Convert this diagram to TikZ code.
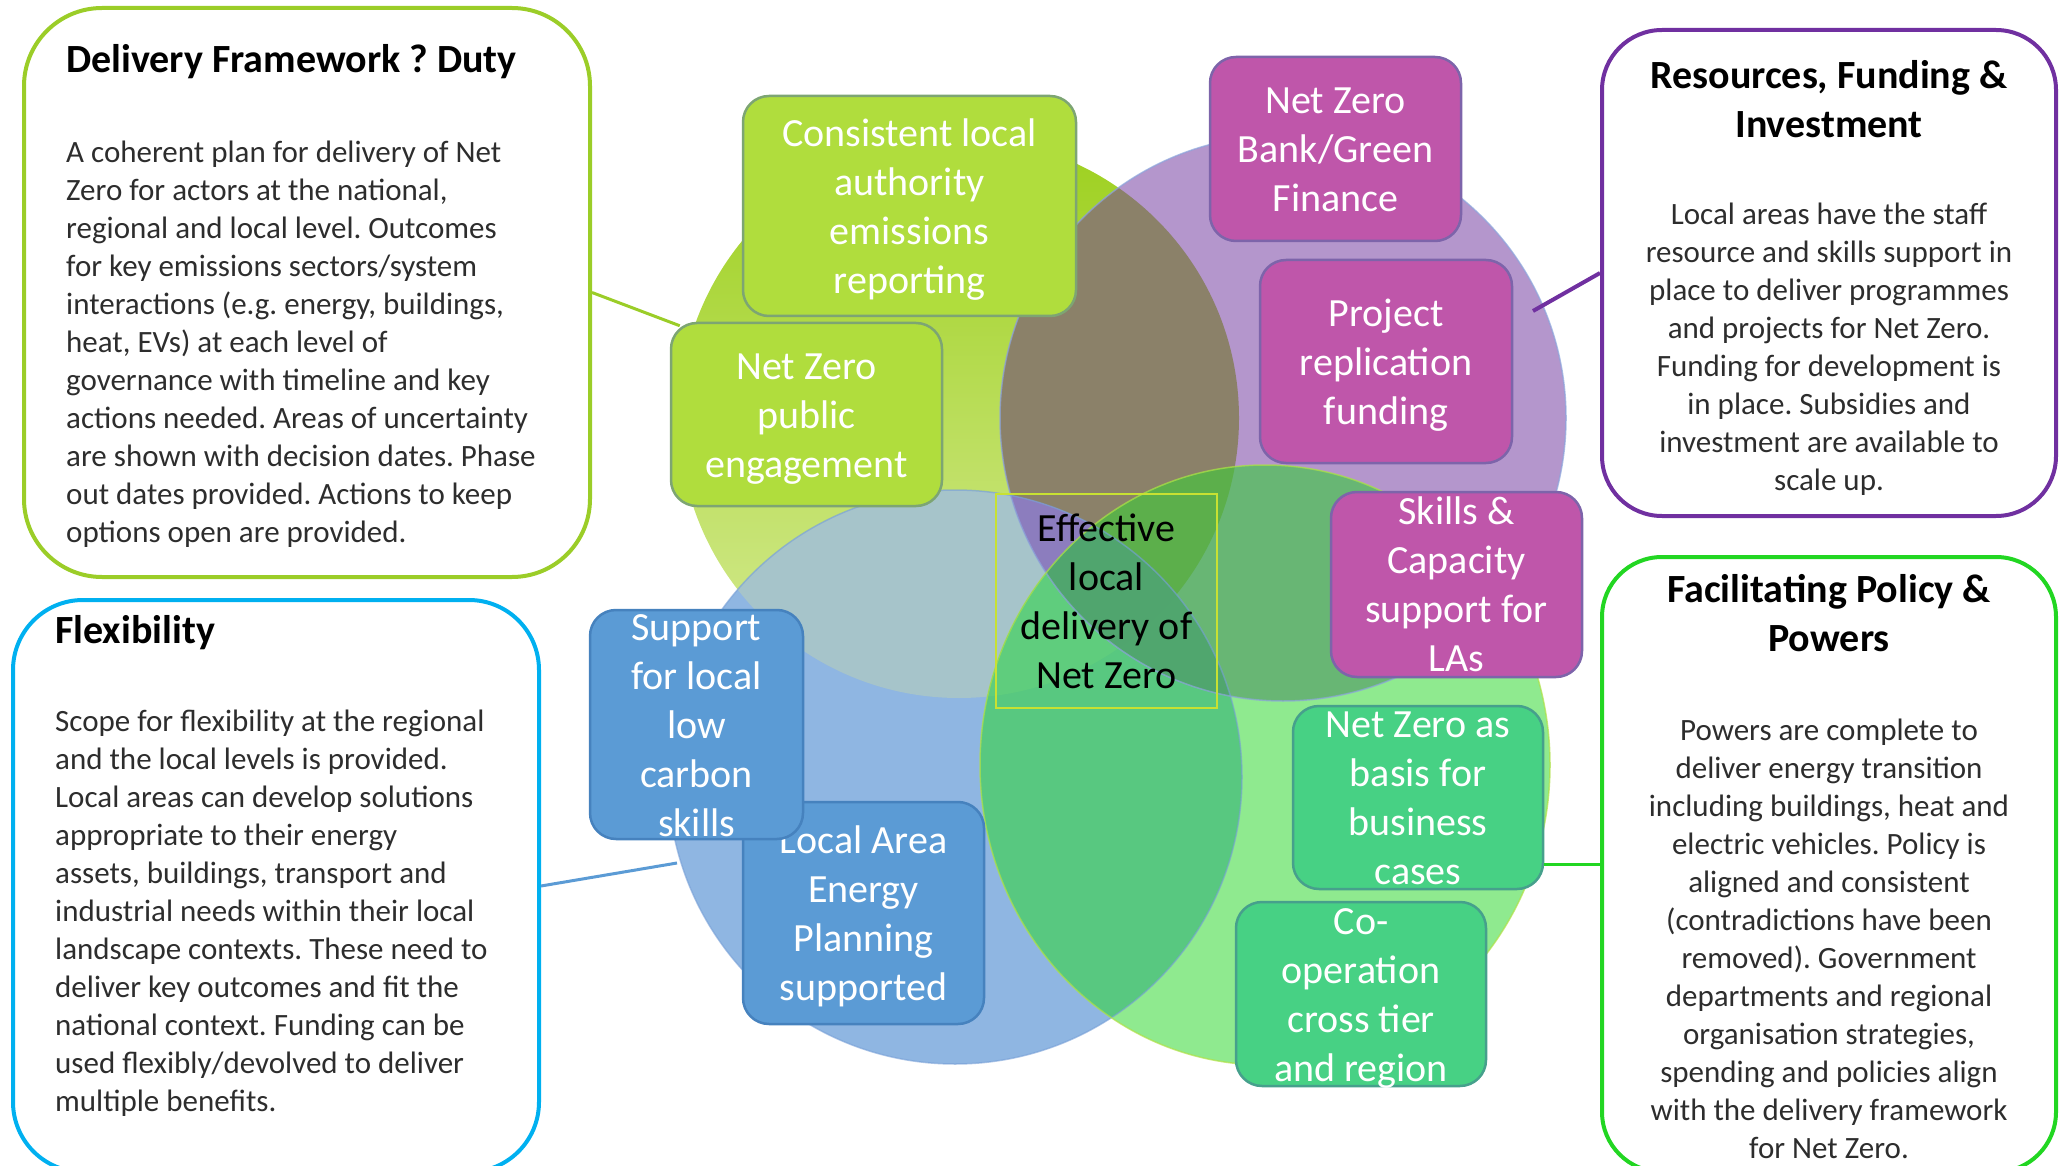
\documentclass[tikz,border=0pt]{standalone}
\usepackage{fontspec}
\setmainfont{Carlito}
\frenchspacing
\definecolor{cLtop}{RGB}{157,208,30}
\definecolor{cLmid}{RGB}{163,211,42}
\definecolor{cLbot}{RGB}{215,235,150}
\definecolor{cP}{RGB}{180,150,204}
\definecolor{cB}{RGB}{143,182,226}
\definecolor{cG}{RGB}{143,234,143}
\definecolor{cLP}{RGB}{139,129,105}
\definecolor{cLB}{RGB}{166,196,202}
\definecolor{cLG}{RGB}{92,176,78}
\definecolor{cPB}{RGB}{140,125,190}
\definecolor{cPG}{RGB}{104,182,116}
\definecolor{cBG}{RGB}{88,200,128}
\definecolor{cLPB}{RGB}{140,125,190}
\definecolor{cLPG}{RGB}{92,175,75}
\definecolor{cLBG}{RGB}{95,205,125}
\definecolor{cPBG}{RGB}{80,166,110}
\definecolor{cLPBG}{RGB}{80,165,110}
\definecolor{edgeP}{RGB}{140,165,220}
\definecolor{edgeB}{RGB}{120,160,215}
\definecolor{edgeG}{RGB}{175,225,70}
\definecolor{limeBox}{RGB}{176,221,61}
\definecolor{limeEdge}{RGB}{125,165,115}
\definecolor{magBox}{RGB}{191,86,170}
\definecolor{magEdge}{RGB}{125,100,170}
\definecolor{grnBox}{RGB}{71,209,132}
\definecolor{grnEdge}{RGB}{70,160,140}
\definecolor{bluBox}{RGB}{91,155,213}
\definecolor{bluEdge}{RGB}{70,130,190}
\definecolor{sbLime}{RGB}{155,205,40}
\definecolor{sbCyan}{RGB}{0,176,240}
\definecolor{sbPurple}{RGB}{112,48,160}
\definecolor{sbGreen}{RGB}{34,214,34}
\definecolor{ctrEdge}{RGB}{200,225,50}
\definecolor{bodyc}{RGB}{45,45,45}
\newcommand\pathL{(959,418) circle [radius=280]}
\newcommand\pathP{(1283,418) circle [radius=283]}
\newcommand\pathB{(955,777) circle [radius=287]}
\newcommand\pathG{(1265,765) ellipse [x radius=285, y radius=300]}
\newcommand\istrut{\rule[-10.8pt]{0pt}{48.8pt}}
% box style, width, height, name, centre, text
\newcommand\ibx[6]{%
  \node[#1, minimum width=#2pt, minimum height=#3pt] (#4) at (#5) {};
  \node[itext] (#4T) at (#4.center) {\istrut #6\istrut};}
\begin{document}
\begin{tikzpicture}[x=1pt,y=-1pt,
  ibox/.style={rounded corners=26pt, line width=2.5pt, inner sep=0pt},
  itext/.style={text=white, align=center, inner sep=0pt, font=\fontsize{40}{49}\selectfont},
  limebox/.style={ibox, fill=limeBox, draw=limeEdge},
  magbox/.style={ibox, fill=magBox, draw=magEdge},
  grnbox/.style={ibox, fill=grnBox, draw=grnEdge},
  blubox/.style={ibox, fill=bluBox, draw=bluEdge},
  sidebox/.style={line width=4pt, inner sep=0pt},
  ttl/.style={font=\fontsize{40}{49}\selectfont\bfseries, inner sep=0pt, text=black},
  bdy/.style={font=\fontsize{31}{38}\selectfont, inner sep=0pt, text=bodyc},
  conn/.style={line width=3pt}
]
\useasboundingbox (0,0) rectangle (2062,1166);
\begin{scope}
\clip (0,0) rectangle (2062,1166);
% ---- circles ----
\shade[top color=cLtop, middle color=cLmid, bottom color=cLbot] \pathL;
\fill[cP] \pathP;
\fill[cB] \pathB;
\fill[cG] \pathG;
\begin{scope}\clip \pathL; \fill[cLP] \pathP; \fill[cLB] \pathB; \fill[cLG] \pathG; \end{scope}
\begin{scope}\clip \pathP; \fill[cPB] \pathB; \fill[cPG] \pathG; \end{scope}
\begin{scope}\clip \pathB; \fill[cBG] \pathG; \end{scope}
\begin{scope}\clip \pathL; \clip \pathP; \fill[cLPB] \pathB; \fill[cLPG] \pathG; \end{scope}
\begin{scope}\clip \pathL; \clip \pathB; \fill[cLBG] \pathG; \end{scope}
\begin{scope}\clip \pathP; \clip \pathB; \fill[cPBG] \pathG; \end{scope}
\begin{scope}\clip \pathL; \clip \pathP; \clip \pathB; \fill[cLPBG] \pathG; \end{scope}
\draw[edgeP, line width=1.5pt, opacity=0.7] \pathP;
\draw[edgeB, line width=1.5pt, opacity=0.6] \pathB;
\draw[edgeG, line width=1.5pt, opacity=0.7] \pathG;

% ---- side boxes ----
\node[sidebox, draw=sbLime, minimum width=566pt, minimum height=569pt, rounded corners=78pt] (dfbox) at (307,292.5) {};
\node[sidebox, draw=sbCyan, minimum width=526pt, minimum height=572pt, rounded corners=70pt] (flexbox) at (276,886) {};
\node[sidebox, draw=sbPurple, minimum width=454pt, minimum height=486pt, rounded corners=60pt] (resbox) at (1829,273) {};
\node[sidebox, draw=sbGreen, minimum width=454pt, minimum height=615pt, rounded corners=60pt] (polbox) at (1829,864.5) {};

\node[ttl, anchor=north west] (t1) at (66,44.5) {Delivery Framework ? Duty};
\node[bdy, anchor=north west, align=left] (b1) at (66,141) {A coherent plan for delivery of Net\\Zero for actors at the national,\\regional and local level. Outcomes\\for key emissions sectors/system\\interactions (e.g. energy, buildings,\\heat, EVs) at each level of\\governance with timeline and key\\actions needed. Areas of uncertainty\\are shown with decision dates. Phase\\out dates provided. Actions to keep\\options open are provided.};

\node[ttl, anchor=north west] (t2) at (55,615.5) {Flexibility};
\node[bdy, anchor=north west, align=left] (b2) at (55,710) {Scope for flexibility at the regional\\and the local levels is provided.\\Local areas can develop solutions\\appropriate to their energy\\assets, buildings, transport and\\industrial needs within their local\\landscape contexts. These need to\\deliver key outcomes and fit the\\national context. Funding can be\\used flexibly/devolved to deliver\\multiple benefits.};

\node[ttl, anchor=north, align=center] (t3) at (1829,60.5) {Resources, Funding \&\\Investment};
\node[bdy, anchor=north, align=center] (b3) at (1829,203) {Local areas have the staff\\resource and skills support in\\place to deliver programmes\\and projects for Net Zero.\\Funding for development is\\in place. Subsidies and\\investment are available to\\scale up.};

\node[ttl, anchor=north, align=center] (t4) at (1829,574.5) {Facilitating Policy \&\\Powers};
\node[bdy, anchor=north, align=center] (b4) at (1829,719) {Powers are complete to\\deliver energy transition\\including buildings, heat and\\electric vehicles. Policy is\\aligned and consistent\\(contradictions have been\\removed). Government\\departments and regional\\organisation strategies,\\spending and policies align\\with the delivery framework\\for Net Zero.};

% ---- inner boxes ----
\ibx{limebox}{333}{220}{a}{909.5,206}{Consistent local\\authority\\emissions\\reporting}
\ibx{limebox}{271}{183}{b}{806.5,414.5}{Net Zero\\public\\engagement}
\ibx{magbox}{251}{184}{c}{1335.5,149}{Net Zero\\Bank/Green\\Finance}
\ibx{magbox}{252}{203}{d}{1386,361.5}{Project\\replication\\funding}
\ibx{magbox}{251}{185}{e}{1456.5,584.5}{Skills \&\\Capacity\\support for\\LAs}
\ibx{grnbox}{250}{183}{f}{1418,797.5}{Net Zero as\\basis for\\business\\cases}
\ibx{grnbox}{250}{184}{g}{1361,994}{Co-\\operation\\cross tier\\and region}
\ibx{blubox}{241}{222}{i}{863.5,913}{Local Area\\Energy\\Planning\\supported}
\ibx{blubox}{213}{229}{h}{696.5,724.5}{Support\\for local\\low\\carbon\\skills}
\node[draw=ctrEdge, line width=2.5pt, minimum width=221pt, minimum height=214pt, inner sep=0pt] (ctr) at (1106.5,601) {};
\node[itext, text=black] (ctrT) at (ctr.center) {\istrut Effective\\local\\delivery of\\Net Zero\istrut};

% ---- connectors ----
\coordinate (blueEnd) at (677,863);
\coordinate (purpEnd) at (1533,311);
\draw[conn, draw=sbLime] (dfbox.east) -- ([shift={(10,4)}]b.north west);
\draw[conn, draw=bluBox] (flexbox.east) -- (blueEnd);
\draw[conn, draw=sbPurple, line width=4pt] (resbox.west) -- (purpEnd);
\draw[conn, draw=sbGreen, line width=3.5pt] (polbox.west) -- (f.east |- polbox.west);
\end{scope}
\end{tikzpicture}
\end{document}
